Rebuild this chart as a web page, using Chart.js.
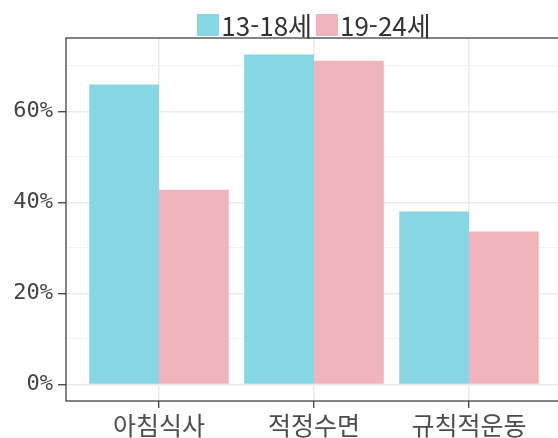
<!DOCTYPE html>
<html lang="ko">
<head>
    <meta charset="UTF-8">
    <title>건강습관 비율</title>
    <script src="https://cdn.jsdelivr.net/npm/chart.js"></script>
    <style>
        html, body { margin: 0; padding: 0; background: #fff; overflow: hidden; }
        #wrap { position: relative; width: 566px; height: 438px; }
        #legend {
            position: absolute; top: 6px; left: 66px; width: 496px;
            display: flex; justify-content: center; align-items: center;
            font-family: "Noto Sans CJK KR", "Noto Sans", sans-serif; font-size: 26px; color: #333;
        }
        #legend .item { display: flex; align-items: center; margin: 0 2px; }
        #legend .box { width: 22px; height: 22px; margin-right: 2px; }
    </style>
</head>
<body>
<div id="wrap">
    <canvas id="chart" width="566" height="438"></canvas>
    <div id="legend"></div>
</div>
<script>
const categories = ['아침식사', '적정수면', '규칙적운동'];
const seriesNames = ['13-18세', '19-24세'];
const teenValues = [65.9, 72.5, 38.0];
const youngAdultValues = [42.8, 71.1, 33.6];
const seriesColors = ['#87D6E3', '#F1B4BB'];
const majorTicks = [0, 20, 40, 60];
const minorTicks = [10, 30, 50, 70];

// legend in html so the box/text gap stays tight
const legend = document.getElementById('legend');
seriesNames.forEach((name, i) => {
    const item = document.createElement('div');
    item.className = 'item';
    item.innerHTML = '<span class="box" style="background:' + seriesColors[i] + '"></span><span>' + name + '</span>';
    legend.appendChild(item);
});

const panelBorder = {
    id: 'panelBorder',
    afterDraw(chart) {
        const { ctx, chartArea } = chart;
        ctx.save();
        ctx.strokeStyle = '#333333';
        ctx.lineWidth = 1.2;
        ctx.strokeRect(chartArea.left, chartArea.top, chartArea.right - chartArea.left, chartArea.bottom - chartArea.top);
        ctx.restore();
    }
};

const toPoints = values => values.map((v, i) => ({ x: i + 1, y: v }));
const isMajor = v => majorTicks.includes(v);

new Chart(document.getElementById('chart'), {
    type: 'bar',
    data: {
        datasets: [
            { label: seriesNames[0], data: toPoints(teenValues), backgroundColor: seriesColors[0] },
            { label: seriesNames[1], data: toPoints(youngAdultValues), backgroundColor: seriesColors[1] }
        ]
    },
    options: {
        responsive: false,
        animation: false,
        layout: { padding: { top: 38, right: 4, left: 0, bottom: 0 } },
        datasets: { bar: { barPercentage: 1, categoryPercentage: 0.9 } },
        plugins: { legend: { display: false }, tooltip: { enabled: false } },
        scales: {
            x: {
                type: 'linear',
                min: 0.4,
                max: 3.6,
                offset: false,
                afterBuildTicks: scale => { scale.ticks = categories.map((c, i) => ({ value: i + 1 })); },
                afterFit: scale => { scale.height = 37; },
                border: { display: false },
                grid: { offset: false, color: '#EBEBEB', lineWidth: 1.5, tickColor: '#333', tickLength: 7, tickWidth: 1.2 },
                ticks: {
                    autoSkip: false, maxRotation: 0, padding: 2,
                    color: '#4D4D4D',
                    font: { family: 'Noto Sans CJK KR', size: 25 },
                    callback: v => categories[v - 1]
                }
            },
            y: {
                min: -3.625,
                max: 76.125,
                afterBuildTicks: scale => {
                    scale.ticks = majorTicks.concat(minorTicks).sort((a, b) => a - b).map(v => ({ value: v }));
                },
                afterFit: scale => { scale.width = 66; },
                border: { display: false },
                grid: {
                    color: c => isMajor(c.tick.value) ? '#EBEBEB' : '#F3F3F3',
                    lineWidth: c => isMajor(c.tick.value) ? 1.5 : 1,
                    tickColor: c => isMajor(c.tick.value) ? '#333' : 'rgba(0,0,0,0)',
                    tickLength: 8,
                    tickWidth: 1.2
                },
                ticks: {
                    padding: 5,
                    color: '#444444',
                    font: { family: 'DejaVu Sans Mono', size: 22 },
                    callback: v => isMajor(v) ? v + '%' : ''
                }
            }
        }
    },
    plugins: [panelBorder]
});
</script>
</body>
</html>
